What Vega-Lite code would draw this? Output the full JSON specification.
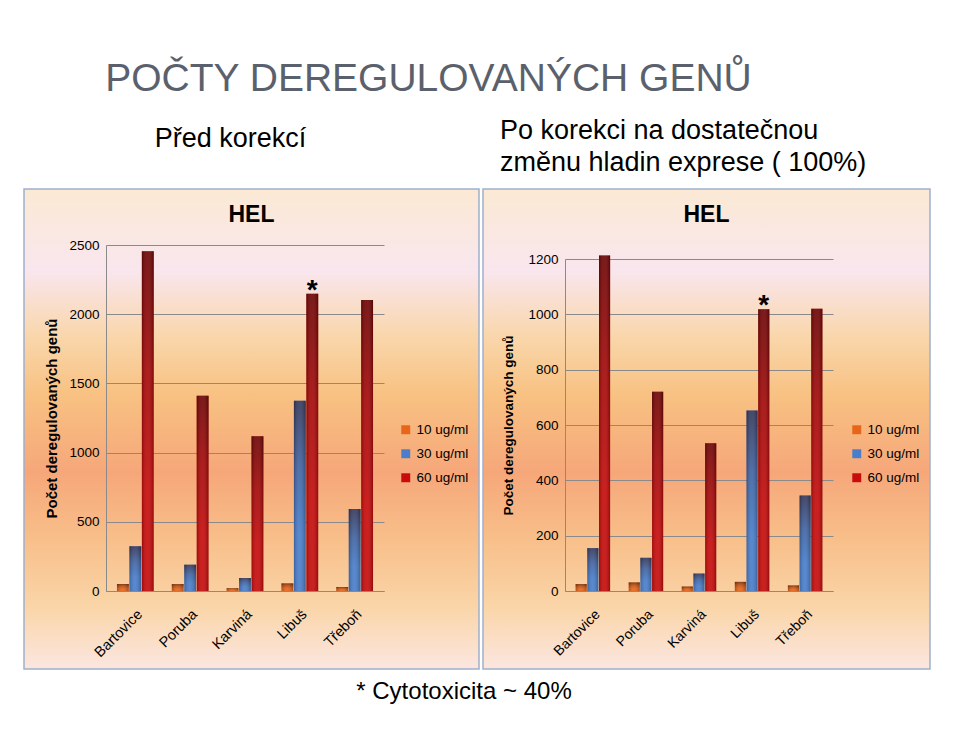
{
  "$schema": "https://vega.github.io/schema/vega-lite/v6.json",
  "background": "white",
  "padding": {"left": 23, "top": 60, "right": 0, "bottom": 0},
  "config": {
    "font": "Liberation Sans",
    "view": {"stroke": "#9fb0cc", "strokeWidth": 1.5},
    "axis": {"labelFont": "Liberation Sans", "titleFont": "Liberation Sans", "labelColor": "black", "titleColor": "black"},
    "legend": {"labelFont": "Liberation Sans", "labelColor": "black"}
  },
  "title": {"text": "POČTY DEREGULOVANÝCH GENŮ", "anchor": "start", "dx": 82, "fontSize": 39, "fontWeight": "normal", "color": "#5b616c", "offset": 17, "font": "Liberation Sans"},
  "datasets": {
    "pred": [
      {"lokalita": "Bartovice", "koncentrace": "10 ug/ml", "pocet": 50},
      {"lokalita": "Bartovice", "koncentrace": "30 ug/ml", "pocet": 324},
      {"lokalita": "Bartovice", "koncentrace": "60 ug/ml", "pocet": 2455},
      {"lokalita": "Poruba", "koncentrace": "10 ug/ml", "pocet": 50},
      {"lokalita": "Poruba", "koncentrace": "30 ug/ml", "pocet": 190},
      {"lokalita": "Poruba", "koncentrace": "60 ug/ml", "pocet": 1411},
      {"lokalita": "Karviná", "koncentrace": "10 ug/ml", "pocet": 20},
      {"lokalita": "Karviná", "koncentrace": "30 ug/ml", "pocet": 94},
      {"lokalita": "Karviná", "koncentrace": "60 ug/ml", "pocet": 1118},
      {"lokalita": "Libuš", "koncentrace": "10 ug/ml", "pocet": 55},
      {"lokalita": "Libuš", "koncentrace": "30 ug/ml", "pocet": 1375},
      {"lokalita": "Libuš", "koncentrace": "60 ug/ml", "pocet": 2148},
      {"lokalita": "Třeboň", "koncentrace": "10 ug/ml", "pocet": 29},
      {"lokalita": "Třeboň", "koncentrace": "30 ug/ml", "pocet": 593},
      {"lokalita": "Třeboň", "koncentrace": "60 ug/ml", "pocet": 2102}
    ],
    "po": [
      {"lokalita": "Bartovice", "koncentrace": "10 ug/ml", "pocet": 25},
      {"lokalita": "Bartovice", "koncentrace": "30 ug/ml", "pocet": 155},
      {"lokalita": "Bartovice", "koncentrace": "60 ug/ml", "pocet": 1213},
      {"lokalita": "Poruba", "koncentrace": "10 ug/ml", "pocet": 31},
      {"lokalita": "Poruba", "koncentrace": "30 ug/ml", "pocet": 120},
      {"lokalita": "Poruba", "koncentrace": "60 ug/ml", "pocet": 720},
      {"lokalita": "Karviná", "koncentrace": "10 ug/ml", "pocet": 16},
      {"lokalita": "Karviná", "koncentrace": "30 ug/ml", "pocet": 63},
      {"lokalita": "Karviná", "koncentrace": "60 ug/ml", "pocet": 534},
      {"lokalita": "Libuš", "koncentrace": "10 ug/ml", "pocet": 33},
      {"lokalita": "Libuš", "koncentrace": "30 ug/ml", "pocet": 652},
      {"lokalita": "Libuš", "koncentrace": "60 ug/ml", "pocet": 1018},
      {"lokalita": "Třeboň", "koncentrace": "10 ug/ml", "pocet": 20},
      {"lokalita": "Třeboň", "koncentrace": "30 ug/ml", "pocet": 345},
      {"lokalita": "Třeboň", "koncentrace": "60 ug/ml", "pocet": 1020}
    ]
  },
  "spacing": 0,
  "vconcat": [
    {
      "spacing": 2,
      "resolve": {"scale": {"x": "independent", "y": "independent", "color": "independent", "xOffset": "independent"}, "legend": {"color": "independent"}},
      "hconcat": [
        {
          "width": 455, "height": 480,
          "title": {"text": "Před korekcí", "fontSize": 27, "fontWeight": "normal", "anchor": "middle", "dx": -21, "offset": 36, "color": "black"},
          "view": {"stroke": "#9fb0cc", "strokeWidth": 1.5, "fill": {"gradient": "linear", "x1": 0, "y1": 0, "x2": 0, "y2": 1, "stops": [
            {"offset": 0, "color": "#fbe9d4"}, {"offset": 0.17, "color": "#f9e6ee"}, {"offset": 0.31, "color": "#f9d6aa"},
            {"offset": 0.43, "color": "#f8c182"}, {"offset": 0.59, "color": "#f6a77a"}, {"offset": 0.73, "color": "#f8bf8a"}, {"offset": 0.87, "color": "#fad5a8"}, {"offset": 1, "color": "#fbe6e0"}]}},
          "encoding": {
            "x": {"field": "lokalita", "type": "nominal", "sort": ["Bartovice", "Poruba", "Karviná", "Libuš", "Třeboň"]},
            "xOffset": {"field": "koncentrace", "type": "nominal"}
          },
          "layer": [
            {
              "data": {"name": "pred"},
              "mark": {"type": "bar"},
              "encoding": {
                "x": {"field": "lokalita", "type": "nominal", "sort": ["Bartovice", "Poruba", "Karviná", "Libuš", "Třeboň"],
                  "scale": {"range": [82, 360], "paddingInner": 0.33, "paddingOuter": 0.2},
                  "axis": {"orient": "bottom", "offset": -78, "labelAngle": -45, "labelFontSize": 14.5, "ticks": false, "domainColor": "#8a8a8a", "title": null, "labelPadding": 16, "grid": false}},
                "xOffset": {"field": "koncentrace", "type": "nominal", "scale": {"paddingInner": 0.05}},
                "y": {"field": "pocet", "type": "quantitative",
                  "scale": {"domain": [0, 2500], "range": [402, 56], "nice": false, "zero": false},
                  "axis": {"values": [0, 500, 1000, 1500, 2000, 2500], "format": "d", "offset": -82, "title": "Počet deregulovaných genů", "titleFontSize": 15, "titleFontWeight": "bold", "titlePadding": 9, "labelFontSize": 13.5, "labelPadding": 7, "grid": true, "gridColor": "#8a8a8a", "domainColor": "#8a8a8a", "ticks": false}},
                "color": {"field": "koncentrace", "type": "nominal",
                  "scale": {"domain": ["10 ug/ml", "30 ug/ml", "60 ug/ml"], "range": ["#e8661a", "#4a7ecb", "#c80c0c"]},
                  "legend": {"orient": "none", "legendX": 375, "legendY": 234, "title": null, "symbolType": "square", "symbolSize": 80, "labelFontSize": 13.5, "rowPadding": 9, "symbolStrokeWidth": 0}}
              }
            },
            {
              "data": {"name": "pred"},
              "mark": {"type": "bar", "fill": {"gradient": "linear", "x1": 0, "y1": 0, "x2": 0, "y2": 1, "stops": [
                {"offset": 0, "color": "rgba(40,0,0,0.55)"}, {"offset": 0.35, "color": "rgba(40,0,0,0.2)"}, {"offset": 0.7, "color": "rgba(0,0,0,0)"}]}},
              "encoding": {"y": {"field": "pocet", "type": "quantitative"}}
            },
            {
              "data": {"name": "pred"},
              "mark": {"type": "bar", "fill": {"gradient": "linear", "x1": 0, "y1": 0, "x2": 1, "y2": 0, "stops": [
                {"offset": 0, "color": "rgba(0,0,0,0.22)"}, {"offset": 0.45, "color": "rgba(255,255,255,0.08)"}, {"offset": 1, "color": "rgba(0,0,0,0.25)"}]}},
              "encoding": {"y": {"field": "pocet", "type": "quantitative"}}
            },
            {
              "data": {"name": "pred"},
              "transform": [{"filter": "datum.lokalita === 'Libuš' && datum.koncentrace === '60 ug/ml'"}],
              "mark": {"type": "text", "text": "*", "fontSize": 28, "fontWeight": "bold", "baseline": "alphabetic", "dy": 5, "color": "black"},
              "encoding": {"y": {"field": "pocet", "type": "quantitative"}}
            },
            {
              "data": {"values": [{"nazev": "HEL"}]},
              "mark": {"type": "text", "fontSize": 23, "fontWeight": "bold", "baseline": "middle", "color": "black"},
              "encoding": {"x": null, "xOffset": null, "text": {"field": "nazev"}, "y": {"datum": 2720}}
            }
          ]
        },
        {
          "width": 447, "height": 480,
          "title": {"text": ["Po korekci na dostatečnou", "změnu hladin exprese ( 100%)"], "fontSize": 27, "lineHeight": 32, "fontWeight": "normal", "anchor": "start", "dx": 17, "offset": 12, "color": "black"},
          "view": {"stroke": "#9fb0cc", "strokeWidth": 1.5, "fill": {"gradient": "linear", "x1": 0, "y1": 0, "x2": 0, "y2": 1, "stops": [
            {"offset": 0, "color": "#fbe9d4"}, {"offset": 0.17, "color": "#f9e6ee"}, {"offset": 0.31, "color": "#f9d6aa"},
            {"offset": 0.43, "color": "#f8c182"}, {"offset": 0.59, "color": "#f6a77a"}, {"offset": 0.73, "color": "#f8bf8a"}, {"offset": 0.87, "color": "#fad5a8"}, {"offset": 1, "color": "#fbe6e0"}]}},
          "encoding": {
            "x": {"field": "lokalita", "type": "nominal", "sort": ["Bartovice", "Poruba", "Karviná", "Libuš", "Třeboň"]},
            "xOffset": {"field": "koncentrace", "type": "nominal"}
          },
          "layer": [
            {
              "data": {"name": "po"},
              "mark": {"type": "bar"},
              "encoding": {
                "x": {"field": "lokalita", "type": "nominal", "sort": ["Bartovice", "Poruba", "Karviná", "Libuš", "Třeboň"],
                  "scale": {"range": [82, 350], "paddingInner": 0.35, "paddingOuter": 0.2},
                  "axis": {"orient": "bottom", "offset": -78, "labelAngle": -45, "labelFontSize": 14, "ticks": false, "domainColor": "#8a8a8a", "title": null, "labelPadding": 16, "grid": false}},
                "xOffset": {"field": "koncentrace", "type": "nominal", "scale": {"paddingInner": 0.05}},
                "y": {"field": "pocet", "type": "quantitative",
                  "scale": {"domain": [0, 1200], "range": [402, 70], "nice": false, "zero": false},
                  "axis": {"values": [0, 200, 400, 600, 800, 1000, 1200], "format": "d", "offset": -82, "title": "Počet deregulovaných genů", "titleFontSize": 13.5, "titleFontWeight": "bold", "titlePadding": 12, "labelFontSize": 13.5, "labelPadding": 7, "grid": true, "gridColor": "#8a8a8a", "domainColor": "#8a8a8a", "ticks": false}},
                "color": {"field": "koncentrace", "type": "nominal",
                  "scale": {"domain": ["10 ug/ml", "30 ug/ml", "60 ug/ml"], "range": ["#e8661a", "#4a7ecb", "#c80c0c"]},
                  "legend": {"orient": "none", "legendX": 367, "legendY": 234, "title": null, "symbolType": "square", "symbolSize": 80, "labelFontSize": 13.5, "rowPadding": 9, "symbolStrokeWidth": 0}}
              }
            },
            {
              "data": {"name": "po"},
              "mark": {"type": "bar", "fill": {"gradient": "linear", "x1": 0, "y1": 0, "x2": 0, "y2": 1, "stops": [
                {"offset": 0, "color": "rgba(40,0,0,0.55)"}, {"offset": 0.35, "color": "rgba(40,0,0,0.2)"}, {"offset": 0.7, "color": "rgba(0,0,0,0)"}]}},
              "encoding": {"y": {"field": "pocet", "type": "quantitative"}}
            },
            {
              "data": {"name": "po"},
              "mark": {"type": "bar", "fill": {"gradient": "linear", "x1": 0, "y1": 0, "x2": 1, "y2": 0, "stops": [
                {"offset": 0, "color": "rgba(0,0,0,0.22)"}, {"offset": 0.45, "color": "rgba(255,255,255,0.08)"}, {"offset": 1, "color": "rgba(0,0,0,0.25)"}]}},
              "encoding": {"y": {"field": "pocet", "type": "quantitative"}}
            },
            {
              "data": {"name": "po"},
              "transform": [{"filter": "datum.lokalita === 'Libuš' && datum.koncentrace === '60 ug/ml'"}],
              "mark": {"type": "text", "text": "*", "fontSize": 28, "fontWeight": "bold", "baseline": "alphabetic", "dy": 5, "color": "black"},
              "encoding": {"y": {"field": "pocet", "type": "quantitative"}}
            },
            {
              "data": {"values": [{"nazev": "HEL"}]},
              "mark": {"type": "text", "fontSize": 23, "fontWeight": "bold", "baseline": "middle", "color": "black"},
              "encoding": {"x": null, "xOffset": null, "text": {"field": "nazev"}, "y": {"datum": 1359}}
            }
          ]
        }
      ]
    },
    {
      "width": 880, "height": 44,
      "view": {"stroke": null},
      "data": {"values": [{"poznamka": "* Cytotoxicita ~ 40%"}]},
      "mark": {"type": "text", "fontSize": 24, "font": "Liberation Sans", "color": "black", "baseline": "middle"},
      "encoding": {"text": {"field": "poznamka"}}
    }
  ]
}
